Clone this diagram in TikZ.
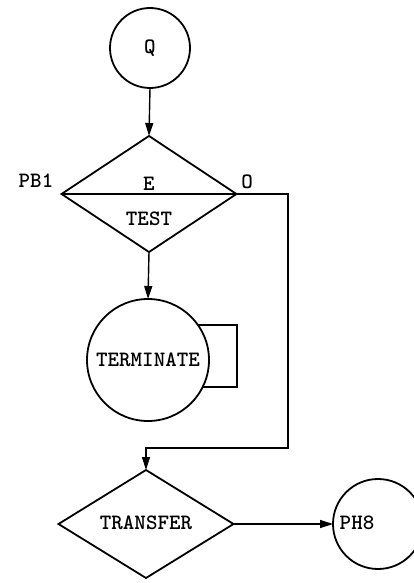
\documentclass[tikz,border=0pt]{standalone}
\usepackage{fontspec}
\usetikzlibrary{shapes.geometric,arrows.meta}
\begin{document}
\begin{tikzpicture}[x=1bp,y=-1bp,
  every node/.style={font=\ttfamily\bfseries\fontsize{22}{22}\selectfont},
  shp/.style={draw,line width=1.8bp,inner sep=0pt,outer sep=0pt},
  circ/.style={shp,circle},
  dia/.style={shp,diamond,minimum width=175bp},
  lbl/.style={inner sep=0pt},
  conn/.style={line width=1.4bp},
  arr/.style={conn,-{Triangle[length=13bp,width=8bp]}}]
\useasboundingbox (0,0) rectangle (413,583);
\node[circ,minimum size=80bp] (q) at (150,48) {};
\node[lbl] (qtxt) at (150,48) {Q};
\node[dia,minimum height=116bp] (test) at (149,194) {};
\node[circ,minimum size=122bp] (term) at (148,360) {};
\node[lbl] (termtxt) at (148,360) {TERMINATE};
\node[dia,minimum width=175bp,minimum height=108bp] (transfer) at (146,524) {};
\node[lbl] (transtxt) at (146,523) {TRANSFER};
\node[circ,minimum size=90bp] (ph) at (378,524) {};
\node[lbl] (phtxt) at (357,523) {PH8};
\node[lbl] (e) at (149,184) {E};
\node[lbl] (testtxt) at (149,219) {TEST};
\node[lbl] (pb) at (36,181) {PB1};
\node[lbl] (o) at (247,182) {O};
\draw[conn] (test.west) -- (test.east);
\draw[arr] (q.south) -- (test.north);
\draw[arr] (test.south) -- (term.north);
\coordinate (loopx) at (237,356);
\draw[conn,line width=1.8bp] (term.35) -| (loopx) |- (term.-26);
\coordinate (bendR) at (288,448);
\draw[arr] (test.east) -| (bendR) -| (transfer.north);
\draw[arr] (transfer.east) -- (ph.west);
\end{tikzpicture}
\end{document}
